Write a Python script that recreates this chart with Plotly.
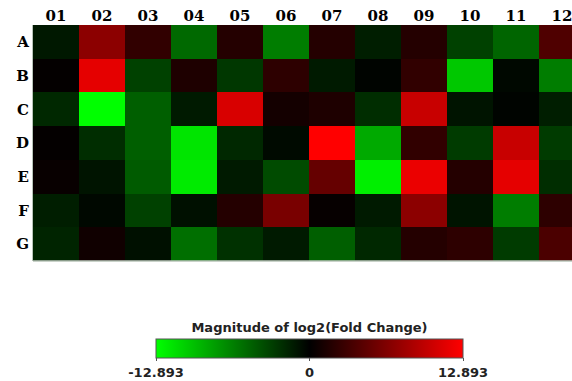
import plotly.graph_objects as go

# Plate layout: rows A-G, columns 01-12, log2 fold change per well
rows = ["A", "B", "C", "D", "E", "F", "G"]
cols = ["01", "02", "03", "04", "05", "06", "07", "08", "09", "10", "11", "12"]

row_A = [-1.2, 7.1, 2.5, -5.3, 1.8, -6.3, 1.8, -1.5, 1.8, -3.3, -5.1, 4.0]
row_B = [0.2, 11.6, -3.3, 1.5, -2.8, 2.3, -1.3, -0.2, 2.5, -10.1, -0.4, -6.3]
row_C = [-2.0, -12.893, -4.8, -1.3, 10.9, 1.0, 1.5, -2.3, 10.1, -1.0, -0.2, -1.5]
row_D = [0.2, -2.3, -4.8, -11.6, -2.0, -0.5, 12.893, -8.6, 2.5, -3.0, 10.1, -3.0]
row_E = [0.4, -1.0, -4.6, -11.9, -1.3, -3.8, 5.1, -12.1, 11.9, 1.8, 11.6, -2.3]
row_F = [-1.5, -0.4, -3.3, -0.8, 1.8, 6.1, 0.3, -1.3, 7.1, -1.0, -6.3, 2.3]
row_G = [-1.8, 0.8, -0.8, -5.6, -2.5, -1.3, -4.8, -2.0, 1.8, 2.3, -3.0, 3.8]

z_limit = 12.893
cbar_ticks = [-12.893, 0, 12.893]
cbar_ticktext = ["-12.893", "0", "12.893"]

z = [row_A, row_B, row_C, row_D, row_E, row_F, row_G]

fig = go.Figure(
    go.Heatmap(
        z=z,
        x=cols,
        y=rows,
        zmin=-z_limit,
        zmax=z_limit,
        colorscale=[[0.0, "rgb(0,255,0)"], [0.5, "rgb(0,0,0)"], [1.0, "rgb(255,0,0)"]],
        colorbar=dict(
            orientation="h",
            x=0.513,
            xanchor="center",
            y=-0.225,
            yanchor="top",
            len=327,
            lenmode="pixels",
            thickness=19,
            thicknessmode="pixels",
            outlinecolor="#555555",
            outlinewidth=1,
            tickmode="array",
            tickvals=cbar_ticks,
            ticktext=cbar_ticktext,
            ticks="outside",
            ticklen=3,
            tickcolor="#555555",
            tickfont=dict(family="DejaVu Sans", size=13, color="#222222", weight="bold"),
            title=dict(
                text="Magnitude of log2(Fold Change)",
                side="top",
                font=dict(family="DejaVu Sans", size=13, color="#222222", weight="bold"),
            ),
        ),
    )
)

fig.update_layout(
    width=572,
    height=381,
    margin=dict(l=33, r=0, t=25, b=120, autoexpand=False),
    paper_bgcolor="white",
    plot_bgcolor="white",
    xaxis=dict(
        side="top",
        range=[-0.5, 11.217],
        showgrid=False,
        zeroline=False,
        ticks="",
        tickfont=dict(family="DejaVu Serif", size=15, color="black", weight="bold"),
        fixedrange=True,
    ),
    yaxis=dict(
        autorange="reversed",
        showgrid=False,
        zeroline=False,
        ticks="",
        showline=True,
        linecolor="#b8c4b8",
        linewidth=1,
        tickfont=dict(family="DejaVu Serif", size=15, color="black", weight="bold"),
        fixedrange=True,
    ),
    shapes=[
        dict(type="line", xref="paper", yref="paper", x0=0, x1=1, y0=0, y1=0,
             line=dict(color="#b8c4b8", width=1.5)),
    ],
)

fig.write_html("out.html")
